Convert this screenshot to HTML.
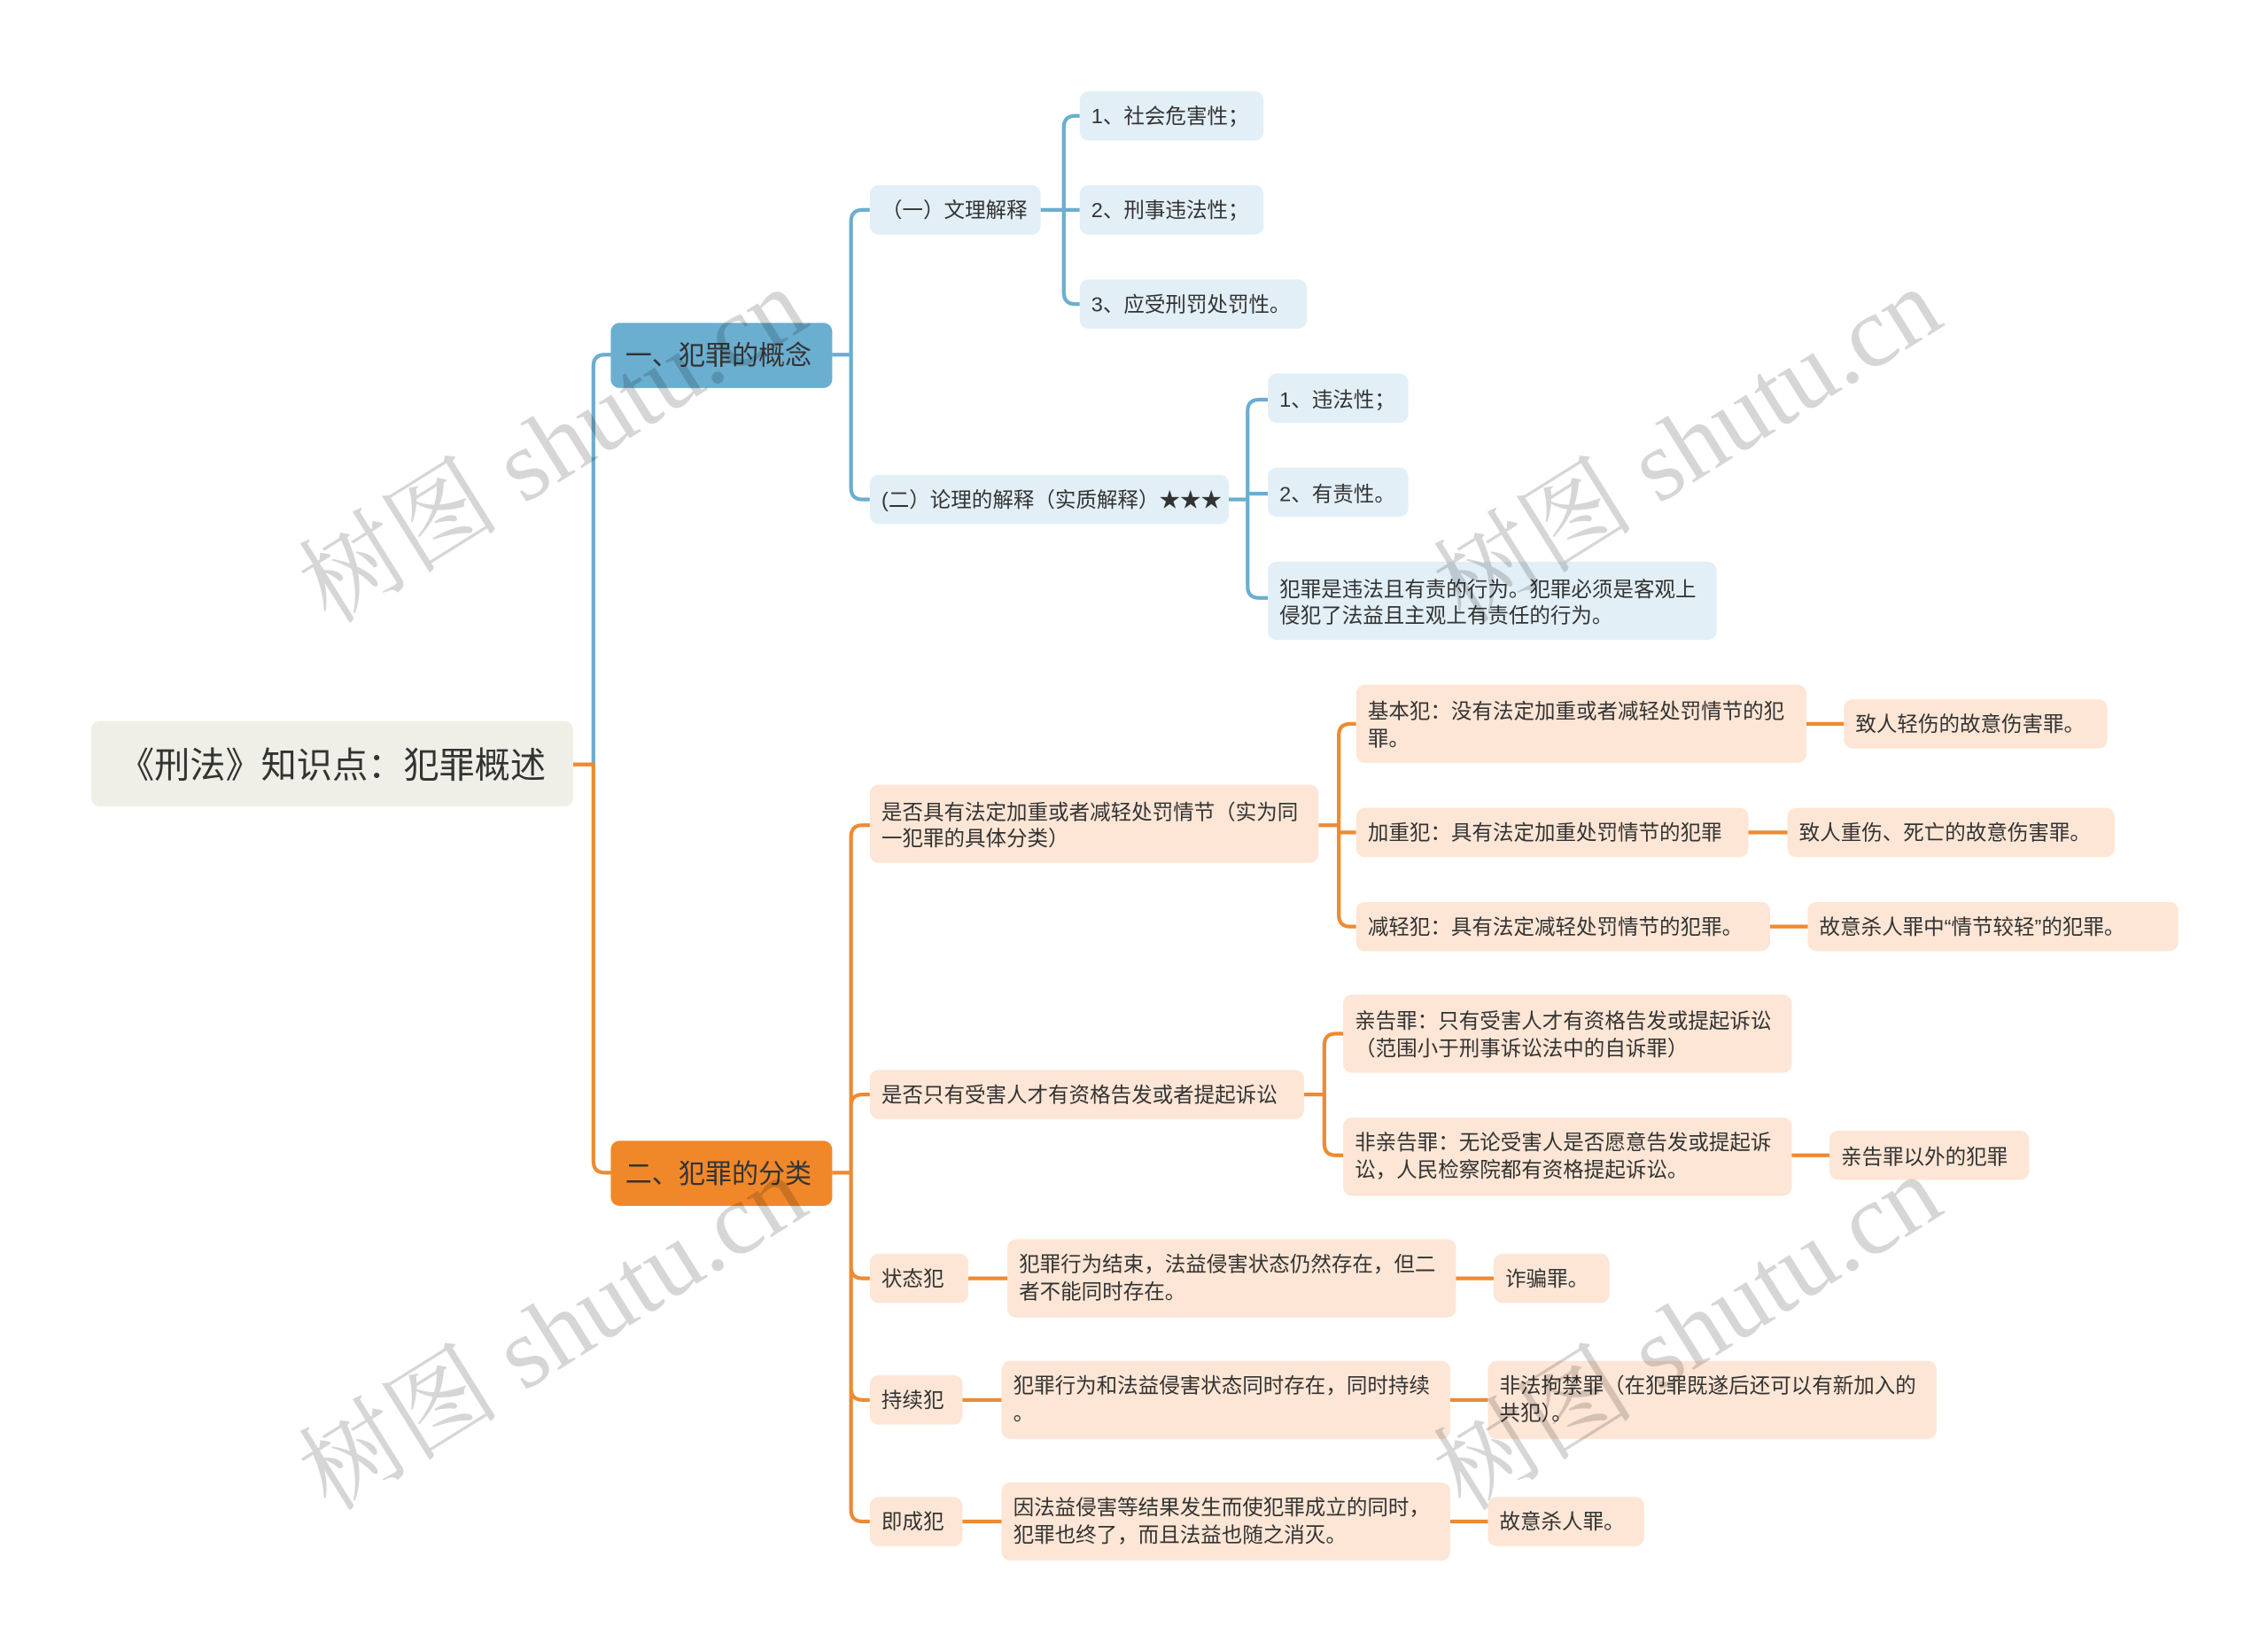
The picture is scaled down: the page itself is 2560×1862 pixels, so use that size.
<!DOCTYPE html>
<html><head><meta charset="utf-8"><style>
html,body{margin:0;padding:0;background:#fff;}
svg{display:block;}
text{font-family:"Liberation Sans","Noto Sans CJK SC",sans-serif;fill:#333;}
.t{font-size:14.4px;}
.b{fill:none;stroke:#6aaed0;stroke-width:2.6;}
.o{fill:none;stroke:#ee8a32;stroke-width:2.6;}
.bn{fill:#e2eff7;}
.on{fill:#fde6d5;}
.wm{font-family:"Liberation Serif","Noto Serif CJK SC",serif;font-size:70px;fill:#000;fill-opacity:0.16;}
</style></head><body>
<svg width="2560" height="1862" viewBox="0 0 1567 1139.7" xmlns="http://www.w3.org/2000/svg">
<rect width="1567" height="1140" fill="#fff"/>

<path class="b" d="M396 528 H410 V253 Q410 245 418 245 H422"/>
<path class="o" d="M396 528 H410 V802 Q410 810 418 810 H422"/>
<path class="b" d="M575 245 H588 M588 245 V153 Q588 145 596 145 H601 M588 245 V337 Q588 345 596 345 H601"/>
<path class="b" d="M719 145 H746 M735 145 V88 Q735 80 743 80 H746 M735 145 V202 Q735 210 743 210 H746"/>
<path class="b" d="M849 345 H862 M862 345 V284 Q862 276 870 276 H876 M862 341 H876 M862 345 V405 Q862 413 870 413 H876"/>
<path class="o" d="M575 810 H588 M588 810 V578 Q588 570 596 570 H601 M588 810 V764 Q588 756 596 756 H601 M588 810 V875 Q588 883 596 883 H601 M588 810 V959 Q588 967 596 967 H601 M588 810 V1043 Q588 1051 596 1051 H601"/>
<path class="o" d="M911 570 H925 M925 570 V508 Q925 500 933 500 H937 M925 570 V575 H937 M925 570 V632 Q925 640 933 640 H937"/>
<path class="o" d="M1248 500 H1274 M1208 575 H1235 M1223 640 H1249"/>
<path class="o" d="M901 756 H915 M915 756 V722 Q915 714 923 714 H928 M915 756 V790 Q915 798 923 798 H928 M1238 798 H1264"/>
<path class="o" d="M669 883 H696 M1006 883 H1032 M665 967 H692 M1002 967 H1028 M665 1051 H692 M1002 1051 H1028"/>

<rect x="63" y="498" width="333" height="59" rx="6" fill="#efefe7"/>
<text x="82" y="537" style="font-size:24.6px">《刑法》知识点：犯罪概述</text>

<rect x="422" y="223" width="153" height="45" rx="6" fill="#6aaed0"/>
<text x="432" y="252" style="font-size:18.4px">一、犯罪的概念</text>
<rect x="422" y="788" width="153" height="45" rx="6" fill="#f0882a"/>
<text x="432" y="817" style="font-size:18.4px">二、犯罪的分类</text>

<rect class="bn" x="601" y="128" width="118" height="34" rx="6"/>
<text class="t" x="609" y="150">（一）文理解释</text>
<rect class="bn" x="601" y="328" width="248" height="34" rx="6"/>
<text class="t" x="609" y="350">(二）论理的解释（实质解释）★★★</text>
<rect class="bn" x="746" y="63" width="127" height="34" rx="6"/>
<text class="t" x="754" y="85">1、社会危害性；</text>
<rect class="bn" x="746" y="128" width="127" height="34" rx="6"/>
<text class="t" x="754" y="150">2、刑事违法性；</text>
<rect class="bn" x="746" y="193" width="157" height="34" rx="6"/>
<text class="t" x="754" y="215">3、应受刑罚处罚性。</text>
<rect class="bn" x="876" y="258" width="97" height="34" rx="6"/>
<text class="t" x="884" y="281">1、违法性；</text>
<rect class="bn" x="876" y="323" width="97" height="34" rx="6"/>
<text class="t" x="884" y="346">2、有责性。</text>
<rect class="bn" x="876" y="388" width="310" height="54" rx="6"/>
<text class="t" x="884" y="412">犯罪是违法且有责的行为。犯罪必须是客观上</text>
<text class="t" x="884" y="430">侵犯了法益且主观上有责任的行为。</text>

<rect class="on" x="601" y="542" width="310" height="54" rx="6"/>
<text class="t" x="609" y="566">是否具有法定加重或者减轻处罚情节（实为同</text>
<text class="t" x="609" y="584">一犯罪的具体分类）</text>
<rect class="on" x="601" y="739" width="300" height="34" rx="6"/>
<text class="t" x="609" y="761">是否只有受害人才有资格告发或者提起诉讼</text>
<rect class="on" x="601" y="866" width="68" height="34" rx="6"/>
<text class="t" x="609" y="888">状态犯</text>
<rect class="on" x="601" y="950" width="64" height="34" rx="6"/>
<text class="t" x="609" y="972">持续犯</text>
<rect class="on" x="601" y="1034" width="64" height="34" rx="6"/>
<text class="t" x="609" y="1056">即成犯</text>

<rect class="on" x="937" y="473" width="311" height="54" rx="6"/>
<text class="t" x="945" y="496">基本犯：没有法定加重或者减轻处罚情节的犯</text>
<text class="t" x="945" y="515">罪。</text>
<rect class="on" x="1274" y="483" width="182" height="34" rx="6"/>
<text class="t" x="1282" y="505">致人轻伤的故意伤害罪。</text>
<rect class="on" x="937" y="558" width="271" height="34" rx="6"/>
<text class="t" x="945" y="580">加重犯：具有法定加重处罚情节的犯罪</text>
<rect class="on" x="1235" y="558" width="226" height="34" rx="6"/>
<text class="t" x="1243" y="580">致人重伤、死亡的故意伤害罪。</text>
<rect class="on" x="937" y="623" width="286" height="34" rx="6"/>
<text class="t" x="945" y="645">减轻犯：具有法定减轻处罚情节的犯罪。</text>
<rect class="on" x="1249" y="623" width="256" height="34" rx="6"/>
<text class="t" x="1257" y="645">故意杀人罪中“情节较轻”的犯罪。</text>

<rect class="on" x="928" y="687" width="310" height="54" rx="6"/>
<text class="t" x="936" y="710">亲告罪：只有受害人才有资格告发或提起诉讼</text>
<text class="t" x="936" y="729">（范围小于刑事诉讼法中的自诉罪）</text>
<rect class="on" x="928" y="772" width="310" height="54" rx="6"/>
<text class="t" x="936" y="794">非亲告罪：无论受害人是否愿意告发或提起诉</text>
<text class="t" x="936" y="813">讼，人民检察院都有资格提起诉讼。</text>
<rect class="on" x="1264" y="781" width="138" height="34" rx="6"/>
<text class="t" x="1272" y="804">亲告罪以外的犯罪</text>

<rect class="on" x="696" y="856" width="310" height="54" rx="6"/>
<text class="t" x="704" y="878">犯罪行为结束，法益侵害状态仍然存在，但二</text>
<text class="t" x="704" y="897">者不能同时存在。</text>
<rect class="on" x="1032" y="866" width="80" height="34" rx="6"/>
<text class="t" x="1040" y="888">诈骗罪。</text>

<rect class="on" x="692" y="940" width="310" height="54" rx="6"/>
<text class="t" x="700" y="962">犯罪行为和法益侵害状态同时存在，同时持续</text>
<text class="t" x="700" y="981">。</text>
<rect class="on" x="1028" y="940" width="310" height="54" rx="6"/>
<text class="t" x="1036" y="962">非法拘禁罪（在犯罪既遂后还可以有新加入的</text>
<text class="t" x="1036" y="981">共犯）。</text>

<rect class="on" x="692" y="1024" width="310" height="54" rx="6"/>
<text class="t" x="700" y="1046">因法益侵害等结果发生而使犯罪成立的同时，</text>
<text class="t" x="700" y="1065">犯罪也终了，而且法益也随之消灭。</text>
<rect class="on" x="1028" y="1034" width="108" height="34" rx="6"/>
<text class="t" x="1036" y="1056">故意杀人罪。</text>

<text class="wm" transform="translate(228,432) rotate(-32)">树图 shutu.cn</text>
<text class="wm" transform="translate(1012,432) rotate(-32)">树图 shutu.cn</text>
<text class="wm" transform="translate(228,1045) rotate(-32)">树图 shutu.cn</text>
<text class="wm" transform="translate(1012,1045) rotate(-32)">树图 shutu.cn</text>
</svg>
</body></html>
